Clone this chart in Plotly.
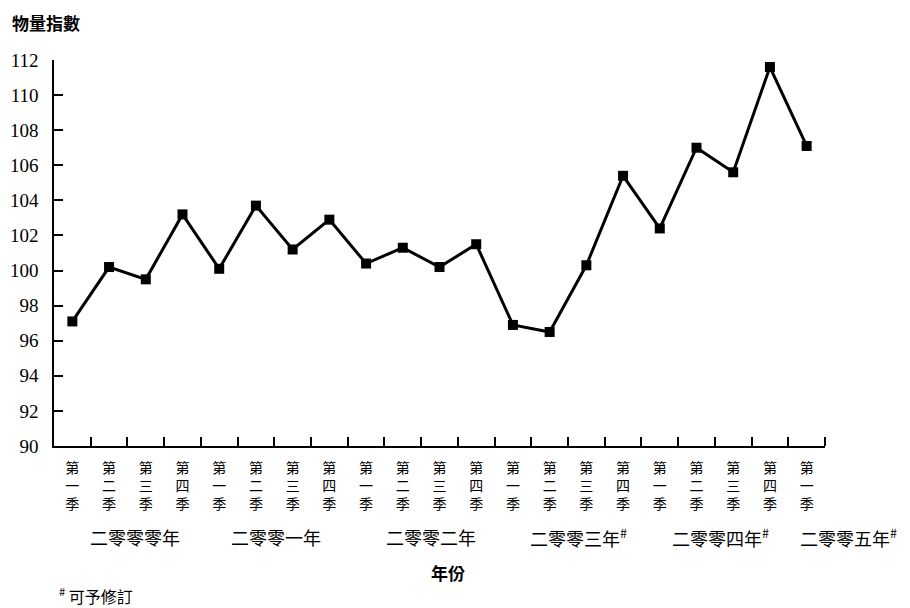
import plotly.graph_objects as go

# Quarterly volume index, 2000 Q1 to 2005 Q1
quarters = ["第<br>一<br>季", "第<br>二<br>季", "第<br>三<br>季", "第<br>四<br>季"]
quarter_labels = [quarters[i % 4] for i in range(21)]
values = [97.1, 100.2, 99.5, 103.2,
          100.1, 103.7, 101.2, 102.9,
          100.4, 101.3, 100.2, 101.5,
          96.9, 96.5, 100.3, 105.4,
          102.4, 107.0, 105.6, 111.6,
          107.1]
year_labels = ["二零零零年", "二零零一年", "二零零二年",
               "二零零三年<sup>#</sup>", "二零零四年<sup>#</sup>", "二零零五年<sup>#</sup>"]
# horizontal centres of the year labels, as fractions of the plot width
year_label_x = [0.105, 0.288, 0.489, 0.680, 0.865, 1.030]
y_ticks = list(range(90, 113, 2))

serif = "Liberation Serif"
cjk = "Noto Sans CJK TC"

fig = go.Figure()
fig.add_trace(go.Scatter(
    x=list(range(21)), y=values, mode="lines+markers",
    line=dict(color="black", width=3),
    marker=dict(symbol="square", size=10, color="black"),
    cliponaxis=False, showlegend=False,
))

fig.update_layout(
    width=910, height=608,
    margin=dict(l=54, r=85, t=60, b=162),
    paper_bgcolor="white", plot_bgcolor="white",
    font=dict(family=serif, color="black"),
    xaxis=dict(
        range=[-0.5, 20.5], tickmode="array",
        tickvals=list(range(21)), ticktext=quarter_labels,
        ticks="", showline=True, linecolor="black", linewidth=1.5,
        showgrid=False, zeroline=False, tickangle=0, ticklabelstandoff=8,
        automargin=False,
        tickfont=dict(family=cjk, size=14, color="black"),
        minor=dict(tickmode="array", tickvals=[i + 0.5 for i in range(21)],
                   ticks="inside", ticklen=9, tickcolor="black", tickwidth=1.5),
    ),
    yaxis=dict(
        range=[90, 112], tickmode="array", tickvals=y_ticks,
        ticks="inside", ticklen=9, tickcolor="black", tickwidth=1.5,
        showline=True, linecolor="black", linewidth=1.5,
        showgrid=False, zeroline=False, ticklabelstandoff=10,
        automargin=False,
        tickfont=dict(family=serif, size=19, color="black"),
    ),
)

for lbl, xp in zip(year_labels, year_label_x):
    fig.add_annotation(x=xp, y=-0.235, xref="paper", yref="paper", text=lbl,
                       showarrow=False, xanchor="center", yanchor="middle",
                       font=dict(family=cjk, size=18, color="black"))

fig.add_annotation(x=-0.057, y=1.098, xref="paper", yref="paper", text="<b>物量指數</b>",
                   showarrow=False, xanchor="left", yanchor="middle",
                   font=dict(family=cjk, size=17, color="black"))
fig.add_annotation(xref="paper", yref="paper", x=0.511, y=-0.328, text="<b>年份</b>",
                   showarrow=False, xanchor="center", yanchor="middle",
                   font=dict(family=cjk, size=17, color="black"))
fig.add_annotation(xref="paper", yref="paper", x=0.004, y=-0.387,
                   text="<sup>#</sup> 可予修訂",
                   showarrow=False, xanchor="left", yanchor="middle",
                   font=dict(family=cjk, size=16, color="black"))

fig.write_html("out.html")
